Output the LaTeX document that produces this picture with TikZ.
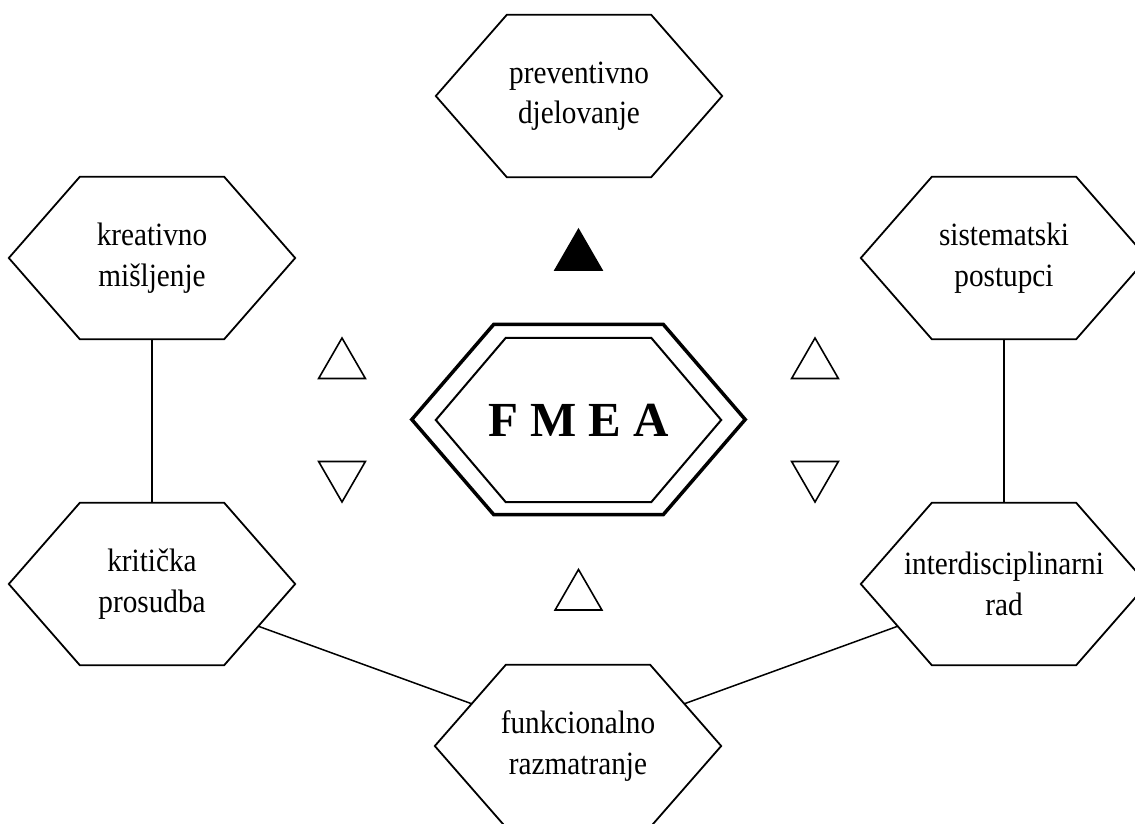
\documentclass[tikz,border=0pt]{standalone}
\usepackage{fontspec}
\setmainfont{Liberation Serif}
\newfontfamily\labelfont[FakeStretch=0.9]{Liberation Serif}
\usetikzlibrary{shapes.geometric,calc}
\tikzset{
  hexnode/.style={draw=none, rectangle, minimum width=286pt, minimum height=162pt, inner sep=0pt, align=center, font=\labelfont\fontsize{32.5}{40.5}\selectfont},
  hexline/.style={line width=1.8pt, line join=miter},
  tri/.style={regular polygon, regular polygon sides=3, minimum size=54pt, inner sep=0pt, draw, line width=1.6pt},
  link/.style={line width=1.5pt}
}
\newcommand\hexpath[2]{(#1.west) -- ([xshift=#2]#1.north west) -- ([xshift=-#2]#1.north east) -- (#1.east) -- ([xshift=-#2]#1.south east) -- ([xshift=#2]#1.south west) -- cycle}
\begin{document}
\begin{tikzpicture}[x=1pt,y=-1pt]
\useasboundingbox (0,0) rectangle (1135,824);
\fill[white] (0,0) rectangle (1135,824);

% outer hexagons
\node[hexnode] (pr) at (579,96) {preventivno\\djelovanje};
\node[hexnode] (kr) at (152,258) {kreativno\\mišljenje};
\node[hexnode] (si) at (1004,258) {sistematski\\postupci};
\node[hexnode] (kp) at (152,584) {kritička\\prosudba};
\node[hexnode] (in) at (1004,584) {interdisciplinarni\\rad};
\node[hexnode] (fu) at (578,746) {funkcionalno\\razmatranje};
\foreach \n in {pr,kr,si,kp,in,fu}{
  \draw[hexline] \hexpath{\n}{71pt};
}

% central FMEA
\node[draw=none, rectangle, minimum width=333pt, minimum height=190pt, inner sep=0pt] (fo) at (578.5,419.5) {};
\node[draw=none, rectangle, minimum width=285pt, minimum height=164pt, inner sep=0pt, font=\fontsize{49}{50}\selectfont\bfseries] (fi) at (578.5,420) {F M E A};
\draw[line width=3.5pt, line join=miter] \hexpath{fo}{82pt};
\draw[line width=2pt, line join=miter] \hexpath{fi}{70pt};

% triangles
\node[tri] (tlu) at (342,365) {};
\node[tri, shape border rotate=180] (tld) at (342,475) {};
\node[tri] (tru) at (815,365) {};
\node[tri, shape border rotate=180] (trd) at (815,475) {};
\node[tri, fill=black] (ttop) at (578.5,256.5) {};
\node[tri] (tbot) at (578.5,596.5) {};

% connectors
\coordinate (kp-c) at ($(kp.east)!0.52!([xshift=-71pt]kp.south east)$);
\coordinate (in-c) at ($(in.west)!0.52!([xshift=71pt]in.south west)$);
\coordinate (fu-l) at ($(fu.west)!0.52!([xshift=71pt]fu.north west)$);
\coordinate (fu-r) at ($(fu.east)!0.52!([xshift=-71pt]fu.north east)$);
\draw[link] (kr.south) -- (kp.north);
\draw[link] (si.south) -- (in.north);
\draw[link] (kp-c) -- (fu-l);
\draw[link] (in-c) -- (fu-r);
\end{tikzpicture}
\end{document}
